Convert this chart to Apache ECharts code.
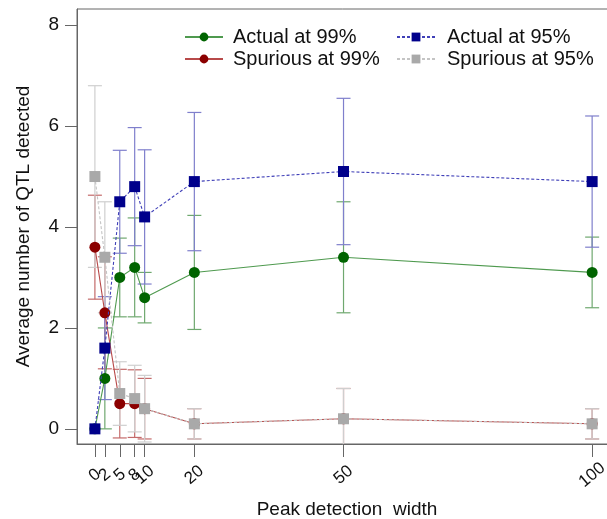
<!DOCTYPE html>
<html>
<head>
<meta charset="utf-8">
<script src="https://cdn.jsdelivr.net/npm/echarts@6/dist/echarts.min.js"></script>
<style>html,body{margin:0;padding:0;background:#fff}#c{width:607px;height:519px}</style>
</head>
<body>
<div id="c"></div>
<script>
const xs = [0, 2, 5, 8, 10, 20, 50, 100];
const xTickLabels = [0, 2, 5, 8, 10, 20, 50, 100];
const xLabelsA = [0, 5, 10, 50];
const xLabelsB = [2, 8, 20, 100];
const yTicks = [0, 2, 4, 6, 8];

const actual99 = [0, 1.0, 3.0, 3.2, 2.6, 3.1, 3.4, 3.1];
const actual99Err = [0, 1.0, 0.78, 0.98, 0.5, 1.13, 1.1, 0.7];
const spurious99 = [3.6, 2.3, 0.5, 0.5, 0.4, 0.1, 0.2, 0.1];
const spurious99Err = [1.03, 1.11, 0.68, 0.67, 0.6, 0.3, 0.6, 0.3];
const actual95 = [0, 1.6, 4.5, 4.8, 4.2, 4.9, 5.1, 4.9];
const actual95Err = [0, 1.02, 1.02, 1.17, 1.33, 1.37, 1.45, 1.3];
const spurious95 = [5.0, 3.4, 0.7, 0.6, 0.4, 0.1, 0.2, 0.1];
const spurious95Err = [1.8, 1.1, 0.63, 0.66, 0.66, 0.3, 0.6, 0.3];

const FONT = 'Liberation Sans, Arial, sans-serif';

function pts(vals) { return xs.map((x, i) => [x, vals[i]]); }
function errs(vals, e) { return xs.map((x, i) => [x, vals[i] - e[i], vals[i] + e[i], e[i]]); }

function errSeries(name, vals, e, color) {
  return {
    name: name + ' err', type: 'custom', clip: true, z: 1, silent: true,
    data: errs(vals, e),
    renderItem: function (params, api) {
      if (api.value(3) === 0) return null;
      const x = api.value(0);
      const p1 = api.coord([x, api.value(2)]);
      const p2 = api.coord([x, api.value(1)]);
      const w = 7;
      const st = { stroke: color, lineWidth: 1.2 };
      return {
        type: 'group', children: [
          { type: 'line', shape: { x1: p1[0], y1: p1[1], x2: p2[0], y2: p2[1] }, style: st },
          { type: 'line', shape: { x1: p1[0] - w, y1: p1[1], x2: p1[0] + w, y2: p1[1] }, style: st },
          { type: 'line', shape: { x1: p2[0] - w, y1: p2[1], x2: p2[0] + w, y2: p2[1] }, style: st }
        ]
      };
    }
  };
}

function lineSeries(name, vals, mColor, lColor, symbol, dashed, z) {
  return {
    name: name, type: 'line', data: pts(vals), symbol: symbol, symbolSize: 11,
    itemStyle: { color: mColor },
    lineStyle: { color: lColor, width: 1.1, type: dashed ? [3, 2] : 'solid' },
    z: z, animation: false
  };
}

const labelStyle = { rotate: 40, fontSize: 17, color: '#111', margin: 31, align: 'center', verticalAlign: 'middle',
  hideOverlap: false, showMinLabel: true, showMaxLabel: true, fontFamily: FONT };

const chart = echarts.init(document.getElementById('c'));
chart.setOption({
  animation: false,
  textStyle: { fontFamily: FONT },
  grid: { left: 77, top: 9, width: 540, height: 435, containLabel: false, outerBoundsMode: 'none',
    show: true, borderColor: '#666', borderWidth: 1 },
  legend: [
    { data: ['Actual at 99%', 'Spurious at 99%'], orient: 'vertical', left: 179, top: 22, itemWidth: 38, itemHeight: 11, itemGap: 2,
      textStyle: { fontSize: 20, color: '#111', fontFamily: FONT, padding: [0, 0, 0, 5] } },
    { data: ['Actual at 95%', 'Spurious at 95%'], orient: 'vertical', left: 391, top: 22, itemWidth: 38, itemHeight: 11, itemGap: 2,
      textStyle: { fontSize: 20, color: '#111', fontFamily: FONT, padding: [0, 0, 0, 7] } }
  ],
  xAxis: [{
    type: 'value', min: -3.6, max: 105, splitLine: { show: false },
    name: 'Peak detection  width', nameLocation: 'middle', nameGap: 56,
    nameTextStyle: { fontSize: 19, color: '#111', fontFamily: FONT },
    axisLine: { onZero: false, lineStyle: { color: '#666' } },
    axisTick: { length: 13, lineStyle: { color: '#666' }, customValues: xTickLabels },
    axisLabel: Object.assign({ customValues: xLabelsA }, labelStyle)
  }, {
    type: 'value', position: 'bottom', min: -3.6, max: 105, splitLine: { show: false },
    axisLine: { show: false, onZero: false }, axisTick: { show: false },
    axisLabel: Object.assign({ customValues: xLabelsB }, labelStyle)
  }],
  yAxis: {
    type: 'value', min: -0.3, max: 8.32, splitLine: { show: false },
    name: 'Average number of QTL detected', nameLocation: 'middle', nameGap: 44,
    nameTextStyle: { fontSize: 19, color: '#111', fontFamily: FONT },
    axisLine: { show: true, onZero: false, lineStyle: { color: '#666' } },
    axisTick: { show: true, length: 12, lineStyle: { color: '#666' }, customValues: yTicks },
    axisLabel: { customValues: yTicks, fontSize: 19, color: '#111', margin: 18, fontFamily: FONT }
  },
  series: [
    errSeries('Actual at 99%', actual99, actual99Err, '#6fa86f'),
    errSeries('Spurious at 99%', spurious99, spurious99Err, '#c46a6a'),
    errSeries('Actual at 95%', actual95, actual95Err, '#7f7fcc'),
    errSeries('Spurious at 95%', spurious95, spurious95Err, '#cfcfcf'),
    lineSeries('Actual at 99%', actual99, '#006400', '#4f9a4f', 'circle', false, 3),
    lineSeries('Spurious at 99%', spurious99, '#8b0000', '#b84a4a', 'circle', false, 3),
    lineSeries('Actual at 95%', actual95, '#00008b', '#4040b8', 'rect', true, 4),
    lineSeries('Spurious at 95%', spurious95, '#a9a9a9', '#c4c4c4', 'rect', true, 5)
  ]
});
</script>
</body>
</html>
